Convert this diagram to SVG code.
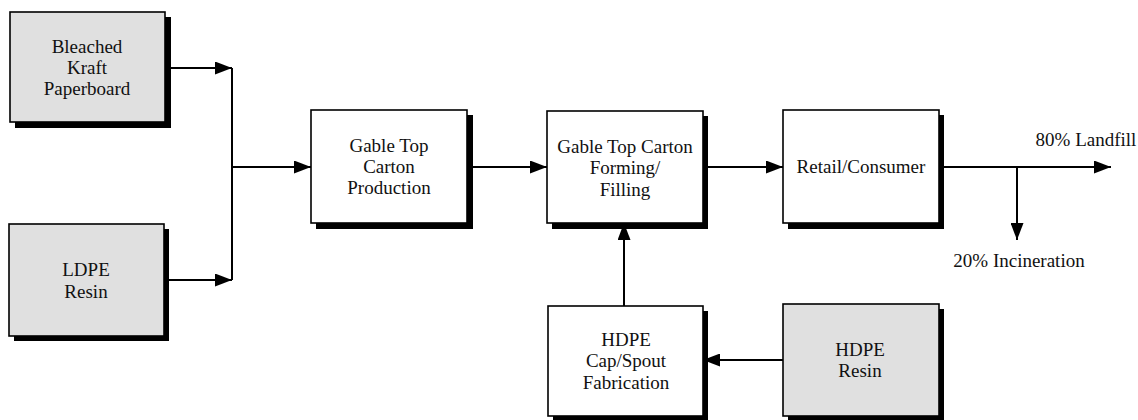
<svg xmlns="http://www.w3.org/2000/svg" width="1138" height="420" viewBox="0 0 1138 420">
  <style>
    .box { stroke: #000; stroke-width: 1.6; }
    .raw { fill: #e0e0e0; }
    .proc { fill: #fff; }
    .shadow { fill: #000; }
    .lbl { font-family: 'Liberation Serif', 'Times New Roman', Times, serif; font-size: 19px; fill: #111; text-anchor: middle; }
    .wire { fill: none; stroke: #000; stroke-width: 2; }
  </style>
  <defs>
    <marker id="arrow" markerUnits="userSpaceOnUse" markerWidth="17" markerHeight="13" refX="17" refY="6.5" orient="auto">
      <path d="M0,0 L17,6.5 L0,13 z" fill="#000"/>
    </marker>
  </defs>
  <rect width="1138" height="420" fill="#fff"/>

  <!-- raw material: paperboard -->
  <g id="bleached-kraft">
    <rect class="shadow" x="15" y="17" width="156" height="111"/>
    <rect class="box raw" x="10" y="12" width="155" height="110"/>
    <text class="lbl" x="87" y="53">Bleached</text>
    <text class="lbl" x="87" y="74">Kraft</text>
    <text class="lbl" x="87" y="95">Paperboard</text>
  </g>

  <!-- raw material: LDPE -->
  <g id="ldpe-resin">
    <rect class="shadow" x="14" y="229" width="155" height="112"/>
    <rect class="box raw" x="9" y="224" width="155" height="112"/>
    <text class="lbl" x="86" y="276">LDPE</text>
    <text class="lbl" x="86" y="298">Resin</text>
  </g>

  <!-- carton production -->
  <g id="carton-production">
    <rect class="shadow" x="316" y="115" width="157" height="114"/>
    <rect class="box proc" x="311" y="110" width="156" height="113"/>
    <text class="lbl" x="389" y="152">Gable Top</text>
    <text class="lbl" x="389" y="173">Carton</text>
    <text class="lbl" x="389" y="194">Production</text>
  </g>

  <!-- forming and filling -->
  <g id="forming-filling">
    <rect class="shadow" x="552" y="116" width="156" height="113"/>
    <rect class="box proc" x="547" y="111" width="156" height="112"/>
    <text class="lbl" x="625" y="153">Gable Top Carton</text>
    <text class="lbl" x="625" y="174">Forming/</text>
    <text class="lbl" x="625" y="196">Filling</text>
  </g>

  <!-- retail / consumer -->
  <g id="retail-consumer">
    <rect class="shadow" x="788" y="115" width="156" height="114"/>
    <rect class="box proc" x="783" y="110" width="156" height="113"/>
    <text class="lbl" x="861" y="173">Retail/Consumer</text>
  </g>

  <!-- cap / spout fabrication -->
  <g id="cap-spout">
    <rect class="shadow" x="553" y="311" width="155" height="112"/>
    <rect class="box proc" x="548" y="306" width="155" height="110"/>
    <text class="lbl" x="626" y="346">HDPE</text>
    <text class="lbl" x="626" y="367">Cap/Spout</text>
    <text class="lbl" x="626" y="389">Fabrication</text>
  </g>

  <!-- raw material: HDPE -->
  <g id="hdpe-resin">
    <rect class="shadow" x="788" y="309" width="156" height="114"/>
    <rect class="box raw" x="783" y="304" width="156" height="112"/>
    <text class="lbl" x="860" y="356">HDPE</text>
    <text class="lbl" x="860" y="377">Resin</text>
  </g>

  <!-- end-of-life labels -->
  <g id="landfill">
    <text class="lbl" x="1086" y="146">80% Landfill</text>
  </g>
  <g id="incineration">
    <text class="lbl" x="1019" y="267">20% Incineration</text>
  </g>

  <g id="connectors">
    <path class="wire" d="M165,68 H232" marker-end="url(#arrow)"/>
    <path class="wire" d="M164,280 H232" marker-end="url(#arrow)"/>
    <path class="wire" d="M232,68 V280"/>
    <path class="wire" d="M232,167 H311" marker-end="url(#arrow)"/>
    <path class="wire" d="M467,167 H547" marker-end="url(#arrow)"/>
    <path class="wire" d="M703,167 H783" marker-end="url(#arrow)"/>
    <path class="wire" d="M943,167 H1111" marker-end="url(#arrow)"/>
    <path class="wire" d="M1017,167 V240" marker-end="url(#arrow)"/>
    <path class="wire" d="M624,306 V223" marker-end="url(#arrow)"/>
    <path class="wire" d="M783,360 H703" marker-end="url(#arrow)"/>
  </g>
</svg>
